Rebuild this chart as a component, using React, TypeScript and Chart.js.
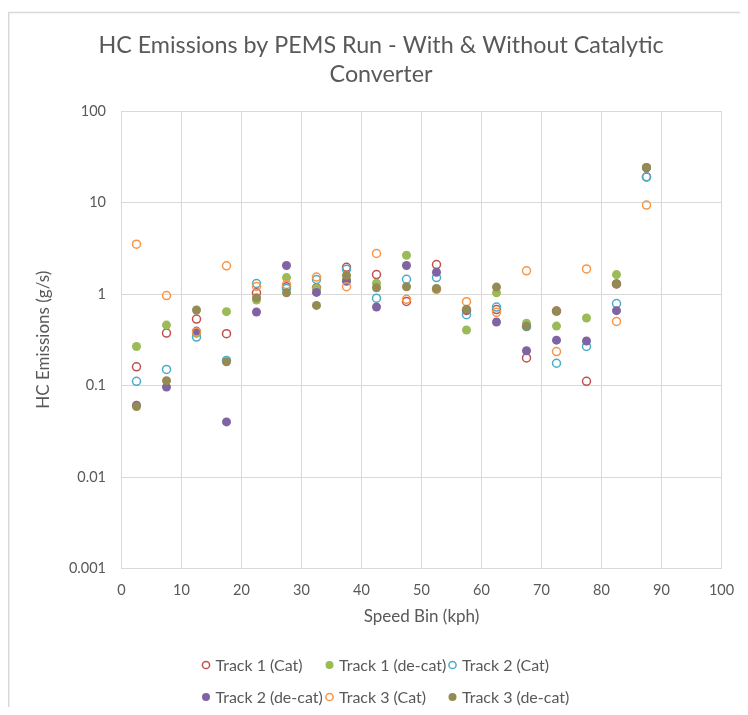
import React, { useEffect, useRef } from 'react';
import { Chart, registerables } from 'chart.js';

Chart.register(...registerables);

const FONT = 'Lato, "Liberation Sans", sans-serif';
const TEXT = '#595959';
const GRID = '#d9d9d9';

// ---- data ----
const speedBins = [2.5, 7.5, 12.5, 17.5, 22.5, 27.5, 32.5, 37.5, 42.5, 47.5, 52.5, 57.5, 62.5, 67.5, 72.5, 77.5, 82.5, 87.5];
const track1Cat = [0.16, 0.374, 0.532, 0.368, 1.03, 1.2, 1.17, 1.96, 1.63, 0.83, 2.1, 0.66, 0.675, 0.2, 0.65, 0.111, 1.29, 19];
const track1DeCat = [0.267, 0.457, 0.371, 0.641, 0.86, 1.51, 1.15, 1.45, 1.31, 2.65, 1.13, 0.404, 1.03, 0.48, 0.446, 0.546, 1.63, 24];
const track2Cat = [0.111, 0.15, 0.338, 0.188, 1.3, 1.15, 1.44, 1.86, 0.9, 1.45, 1.51, 0.594, 0.72, 0.44, 0.175, 0.267, 0.785, 19.1];
const track2DeCat = [0.061, 0.096, 0.393, 0.04, 0.635, 2.05, 1.04, 1.38, 0.72, 2.05, 1.73, 0.67, 0.494, 0.24, 0.313, 0.306, 0.657, 24];
const track3Cat = [3.5, 0.96, 0.385, 2.03, 1.21, 1.27, 1.53, 1.2, 2.77, 0.875, 1.12, 0.824, 0.63, 1.79, 0.235, 1.88, 0.502, 9.37];
const track3DeCat = [0.059, 0.113, 0.668, 0.182, 0.91, 1.03, 0.75, 1.6, 1.17, 1.2, 1.15, 0.68, 1.19, 0.443, 0.65, null, 1.29, 24.2];

const seriesNames = ['Track 1 (Cat)', 'Track 1 (de-cat)', 'Track 2 (Cat)', 'Track 2 (de-cat)', 'Track 3 (Cat)', 'Track 3 (de-cat)'];
const seriesValues = [track1Cat, track1DeCat, track2Cat, track2DeCat, track3Cat, track3DeCat];
const seriesColors = ['#C0504D', '#9BBB59', '#4BACC6', '#8064A2', '#F79646', '#948A54'];
const seriesFilled = [false, true, false, true, false, true];

const xTickValues = [0, 10, 20, 30, 40, 50, 60, 70, 80, 90, 100];
const yTickValues = [0.001, 0.01, 0.1, 1, 10, 100];
const yTickLabels = ['0.001', '0.01', '0.1', '1', '10', '100'];

const titleLines = ['HC Emissions by PEMS Run - With & Without Catalytic', 'Converter'];
const xAxisTitle = 'Speed Bin (kph)';
const yAxisTitle = 'HC Emissions (g/s)';

const CANVAS_W = 746;
const CANVAS_H = 699;
const VISIBLE_W = 732;

const framePlugin = {
  id: 'frame',
  afterLayout(chart: any) {
    // centre the title across the whole chart frame (as in the spreadsheet chart)
    const t = chart.titleBlock;
    if (t) {
      t.left = 0;
      t.right = CANVAS_W;
      t.width = CANVAS_W;
    }
  },
  beforeDraw(chart: any) {
    const ctx = chart.ctx;
    ctx.save();
    ctx.strokeStyle = GRID;
    ctx.lineWidth = 1.5;
    ctx.beginPath();
    ctx.moveTo(0.75, CANVAS_H);
    ctx.lineTo(0.75, 4.5);
    ctx.lineTo(CANVAS_W, 4.5);
    ctx.stroke();
    ctx.restore();
  },
};

const gridLegendPlugin = {
  id: 'gridLegend',
  afterDraw(chart: any) {
    const ctx = chart.ctx;
    const colX = [198, 321.5, 444.5];
    const rowY = [657, 689];
    ctx.save();
    ctx.font = `16px ${FONT}`;
    ctx.textBaseline = 'middle';
    ctx.textAlign = 'left';
    chart.data.datasets.forEach((ds: any, i: number) => {
      const cx = colX[i % 3];
      const cy = rowY[Math.floor(i / 3)];
      ctx.beginPath();
      if (seriesFilled[i]) {
        ctx.fillStyle = seriesColors[i];
        ctx.arc(cx, cy, 4, 0, Math.PI * 2);
        ctx.fill();
      } else {
        ctx.strokeStyle = seriesColors[i];
        ctx.lineWidth = 1.5;
        ctx.arc(cx, cy, 3.6, 0, Math.PI * 2);
        ctx.stroke();
      }
      ctx.fillStyle = TEXT;
      ctx.fillText(ds.label, cx + 9.5, cy + 0.5);
    });
    ctx.restore();
  },
};

export default function App() {
  const ref = useRef<HTMLCanvasElement | null>(null);

  useEffect(() => {
    if (!ref.current) return;
    const datasets = seriesNames.map((name, i) => ({
      label: name,
      data: speedBins.map((x, j) => ({ x, y: seriesValues[i][j] })),
      order: seriesNames.length - i,
      pointStyle: 'circle',
      pointRadius: seriesFilled[i] ? 4.5 : 4,
      pointHoverRadius: seriesFilled[i] ? 4.5 : 4,
      borderWidth: seriesFilled[i] ? 0 : 1.5,
      pointBorderWidth: seriesFilled[i] ? 0 : 1.5,
      borderColor: seriesColors[i],
      pointBorderColor: seriesColors[i],
      backgroundColor: seriesFilled[i] ? seriesColors[i] : 'rgba(0,0,0,0)',
      pointBackgroundColor: seriesFilled[i] ? seriesColors[i] : 'rgba(0,0,0,0)',
      showLine: false,
    }));

    const chart = new Chart(ref.current, {
      type: 'scatter',
      data: { datasets },
      options: {
        animation: false,
        responsive: false,
        maintainAspectRatio: false,
        layout: { padding: { left: 0, right: CANVAS_W - 713.5, top: 0, bottom: CANVAS_H - 624.5 } },
        plugins: {
          legend: { display: false },
          tooltip: { enabled: false },
          title: {
            display: true,
            text: titleLines,
            color: TEXT,
            font: { family: FONT, size: 23.3, weight: 'normal', lineHeight: '29px' },
            padding: { top: 22.5, bottom: 22.5 },
          },
        },
        scales: {
          x: {
            type: 'linear',
            min: 0,
            max: 100,
            afterBuildTicks: (scale: any) => {
              scale.ticks = xTickValues.map((v) => ({ value: v }));
            },
            afterFit: (scale: any) => {
              scale.height = 64;
            },
            grid: { color: GRID, lineWidth: 1, drawTicks: false },
            border: { color: GRID, width: 1 },
            ticks: {
              color: TEXT,
              font: { family: FONT, size: 14.5 },
              padding: 13,
              maxRotation: 0,
            },
            title: {
              display: true,
              text: xAxisTitle,
              color: TEXT,
              font: { family: FONT, size: 17 },
              padding: { top: 0, bottom: 5.5 },
            },
          },
          y: {
            type: 'logarithmic',
            min: 0.001,
            max: 100,
            afterBuildTicks: (scale: any) => {
              scale.ticks = yTickValues.map((v) => ({ value: v }));
            },
            afterFit: (scale: any) => {
              scale.width = 113.5;
            },
            grid: { color: GRID, lineWidth: 1, drawTicks: false },
            border: { color: GRID, width: 1 },
            ticks: {
              color: TEXT,
              font: { family: FONT, size: 14.5 },
              padding: 15.5,
              callback: (value: any) => {
                const k = yTickValues.indexOf(Number(value));
                return k >= 0 ? yTickLabels[k] : '';
              },
            },
            title: {
              display: true,
              text: yAxisTitle,
              color: TEXT,
              font: { family: FONT, size: 17 },
              padding: { top: 25, bottom: 0 },
            },
          },
        },
      },
      plugins: [framePlugin, gridLegendPlugin],
    } as any);

    return () => chart.destroy();
  }, []);

  return (
    <div style={{ width: VISIBLE_W, height: CANVAS_H, overflow: 'hidden' }}>
      <canvas ref={ref} width={CANVAS_W} height={CANVAS_H} style={{ display: 'block' }} />
    </div>
  );
}
